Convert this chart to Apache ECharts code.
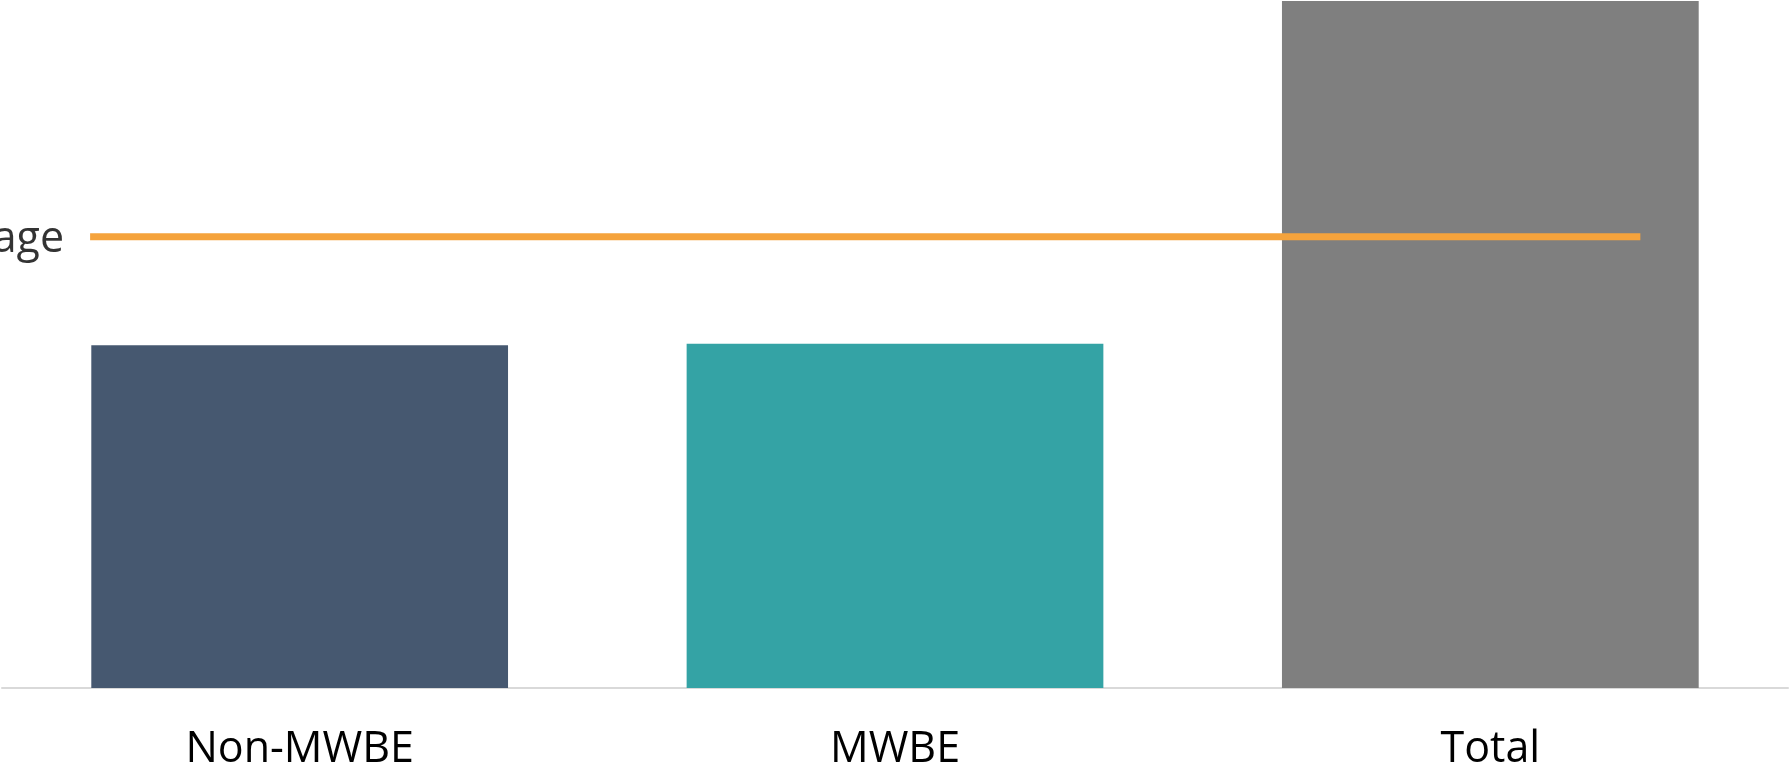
<!DOCTYPE html>
<html>
<head>
<meta charset="utf-8">
<script src="https://cdn.jsdelivr.net/npm/echarts@6/dist/echarts.min.js"></script>
<style>
  html, body { margin: 0; padding: 0; background: #fff; }
  #chart { width: 1789px; height: 771px; }
</style>
</head>
<body>
<div id="chart"></div>
<script>
// categories and bar values (relative scale, Total = 100)
const categories = ['Non-MWBE', 'MWBE', 'Total']
const barValues = [49.9, 50.1, 100]
const barColors = ['#465870', '#34a3a5', '#7f7f7f']

// average line, drawn on a hidden 0..3 value axis over the category band
const avgX = [0.148, 2.752]
const avgY = [65.7, 65.7]
const avgName = 'Average'

const chart = echarts.init(document.getElementById('chart'))

const option = {
  animation: false,
  grid: { left: 2, right: 1, top: 1, bottom: 83 },
  xAxis: [
    {
      type: 'category',
      data: categories,
      axisTick: { show: false },
      axisLine: { lineStyle: { color: '#d9d9d9', width: 2 } },
      axisLabel: {
        color: '#000',
        fontFamily: 'Open Sans',
        fontSize: 43,
        margin: 40
      }
    },
    {
      type: 'value',
      min: 0,
      max: 3,
      show: false
    }
  ],
  yAxis: {
    type: 'value',
    min: 0,
    max: 100,
    show: false,
    splitLine: { show: false }
  },
  series: [
    {
      type: 'bar',
      barWidth: '70%',
      data: barValues.map((v, i) => ({ value: v, itemStyle: { color: barColors[i] } }))
    },
    {
      type: 'line',
      name: avgName,
      xAxisIndex: 1,
      symbol: 'none',
      lineStyle: { color: '#f5a33c', width: 7 },
      data: avgX.map((x, i) => [x, avgY[i]])
    },
    {
      type: 'scatter',
      xAxisIndex: 1,
      symbolSize: 0,
      data: [[avgX[0], avgY[0]]],
      label: {
        show: true,
        position: 'left',
        distance: 26,
        offset: [0, 3],
        formatter: avgName,
        color: '#000',
        fontFamily: 'Open Sans',
        fontSize: 43
      }
    }
  ]
}

chart.setOption(option)
</script>
</body>
</html>
